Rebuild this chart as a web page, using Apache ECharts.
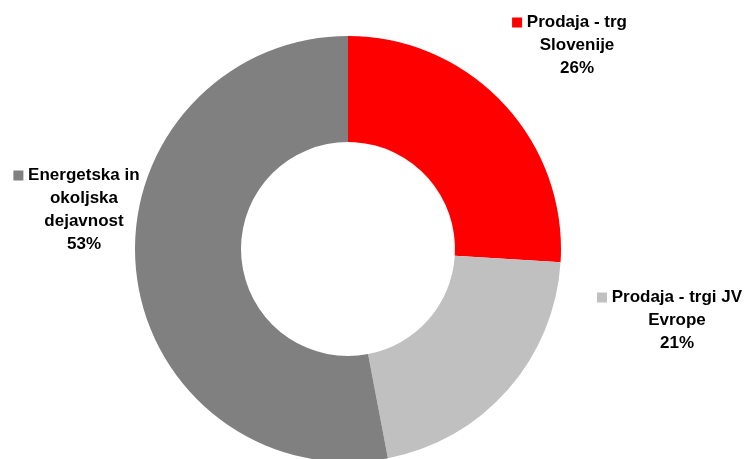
<!DOCTYPE html>
<html>
<head>
<meta charset="utf-8">
<script src="https://cdn.jsdelivr.net/npm/echarts@6/dist/echarts.min.js"></script>
<style>
  html, body { margin: 0; padding: 0; background: #fff; }
  #chart { width: 748px; height: 459px; }
</style>
</head>
<body>
<div id="chart"></div>
<script>
// slice names (lines of each label) and shares in %
const categories = [
  ['Prodaja - trg', 'Slovenije'],
  ['Prodaja - trgi JV', 'Evrope'],
  ['Energetska in', 'okoljska', 'dejavnost']
];
const shares = [26, 21, 53];
const colors = ['#ff0000', '#c0c0c0', '#808080'];

// where each label block sits (centre x, top y)
const labelPos = [[577, 11], [677, 286], [84, 164]];

const chart = echarts.init(document.getElementById('chart'));

const data = shares.map((v, i) => ({
  value: v,
  name: categories[i].join(' '),
  itemStyle: { color: colors[i] },
  label: {
    formatter: () => {
      const lines = categories[i];
      let s = '{m' + i + '|}{t| ' + lines[0] + '}{e|}';
      for (let k = 1; k < lines.length; k++) s += '\n{t|' + lines[k] + '}';
      return s + '\n{t|' + v + '%}';
    }
  }
}));

const rich = {
  t: { fontFamily: 'Liberation Sans, Arial', fontWeight: 'bold', fontSize: 17, color: '#000', lineHeight: 23 },
  e: { width: 15, height: 10 }
};
colors.forEach((c, i) => {
  rich['m' + i] = { width: 10, height: 10, backgroundColor: c };
});

chart.setOption({
  animation: false,
  series: [{
    type: 'pie',
    center: [348, 249],
    radius: [107, 213],
    startAngle: 90,
    clockwise: true,
    data: data,
    label: {
      show: true,
      position: 'outside',
      align: 'center',
      overflow: 'none',
      width: 300,
      edgeDistance: 0,
      rich: rich
    },
    labelLine: { show: false },
    labelLayout: (p) => ({
      x: labelPos[p.dataIndex][0],
      y: labelPos[p.dataIndex][1],
      align: 'center',
      verticalAlign: 'top'
    }),
    emphasis: { disabled: true }
  }]
});
</script>
</body>
</html>
